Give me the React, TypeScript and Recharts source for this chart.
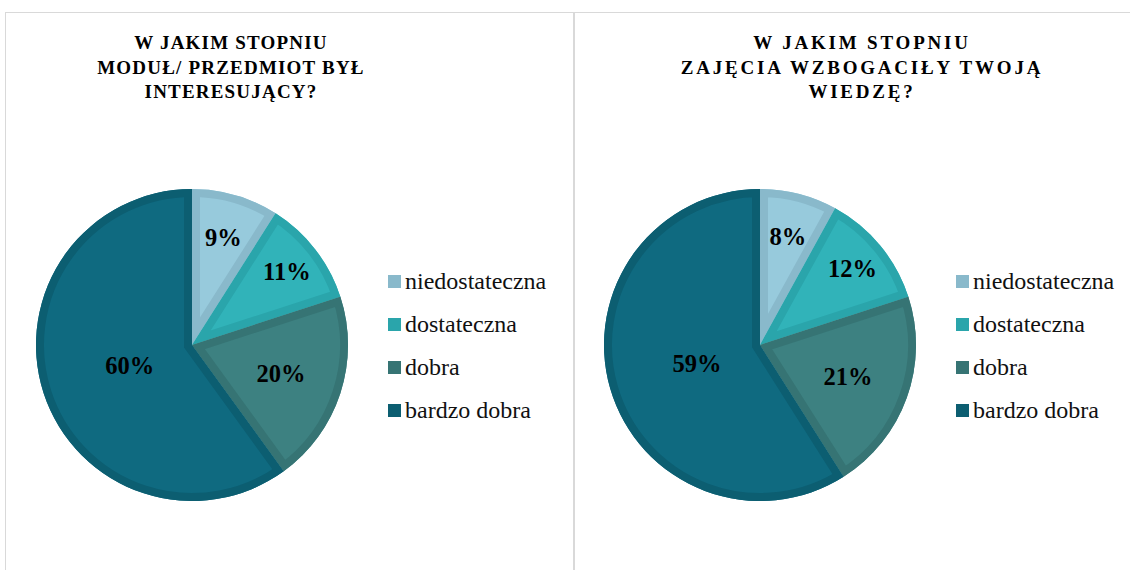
import { Legend, Pie, PieChart, Sector } from "recharts";

const KATEGORIE = ["niedostateczna", "dostateczna", "dobra", "bardzo dobra"];
const INTERESUJACY = [9, 11, 20, 60];
const WIEDZA = [8, 12, 21, 59];

const TYTUL_1 = ["W JAKIM STOPNIU", "MODUŁ/ PRZEDMIOT BYŁ", "INTERESUJĄCY?"];
const TYTUL_2 = ["W JAKIM STOPNIU", "ZAJĘCIA WZBOGACIŁY TWOJĄ", "WIEDZĘ?"];

const FILL = ["#97CADC", "#31B3B9", "#3D8181", "#0F6A80"];
const BORDER = ["#89B9CB", "#2AA5AB", "#367474", "#0C5E71"];
// how far out each % label sits (fraction of radius), per slice
const LABEL_DIST = [0.72, 0.77, 0.6, 0.42];

const SERIF = '"Liberation Serif", "Times New Roman", serif';
const RADIAN = Math.PI / 180;

function makeLabel(id: string) {
  return (p: any) => {
    const { cx, cy, outerRadius, startAngle, endAngle, midAngle, index, value } = p;
    const r = outerRadius * LABEL_DIST[index];
    const x = cx + r * Math.cos(-midAngle * RADIAN);
    const y = cy + r * Math.sin(-midAngle * RADIAN);
    const clipId = `${id}-clip-${index}`;
    return (
      <g>
        <defs>
          <clipPath id={clipId}>
            <Sector
              cx={cx}
              cy={cy}
              innerRadius={0}
              outerRadius={outerRadius}
              startAngle={startAngle}
              endAngle={endAngle}
            />
          </clipPath>
        </defs>
        {/* inner border like Excel's: double-width stroke clipped to the slice */}
        <Sector
          cx={cx}
          cy={cy}
          innerRadius={0}
          outerRadius={outerRadius}
          startAngle={startAngle}
          endAngle={endAngle}
          fill="none"
          stroke={BORDER[index]}
          strokeWidth={16}
          clipPath={`url(#${clipId})`}
        />
        <text
          x={x}
          y={y}
          textAnchor="middle"
          dominantBaseline="central"
          style={{ fontFamily: SERIF, fontWeight: "bold", fontSize: 24.5 }}
          fill="#000"
        >
          {value}%
        </text>
      </g>
    );
  };
}

function Legenda() {
  return (
    <div style={{ fontFamily: SERIF, fontSize: 24, color: "#111" }}>
      {KATEGORIE.map((k, i) => (
        <div key={k} style={{ height: 43, display: "flex", alignItems: "center" }}>
          <span
            style={{
              width: 13,
              height: 13,
              background: BORDER[i],
              display: "inline-block",
              marginRight: 4,
            }}
          />
          <span>{k}</span>
        </div>
      ))}
    </div>
  );
}

function Wykres({ id, values }: { id: string; values: number[] }) {
  const data = KATEGORIE.map((k, i) => ({ name: k, value: values[i], fill: FILL[i] }));
  return (
    <PieChart width={565} height={570} margin={{ top: 0, right: 0, bottom: 0, left: 0 }}>
      <Pie
        data={data}
        dataKey="value"
        nameKey="name"
        cx={192}
        cy={345}
        innerRadius={0}
        outerRadius={156}
        startAngle={90}
        endAngle={-270}
        stroke="none"
        label={makeLabel(id)}
        labelLine={false}
        isAnimationActive={false}
      />
      <Legend
        layout="vertical"
        align="right"
        verticalAlign="middle"
        content={() => <Legenda />}
        wrapperStyle={{ left: 388, top: 260, width: 200, right: "auto", bottom: "auto" }}
      />
    </PieChart>
  );
}

function Tytul({ lines, center, spacing }: { lines: string[]; center: number; spacing: number }) {
  return (
    <div
      style={{
        position: "absolute",
        left: center - 250,
        top: 31,
        width: 500,
        textAlign: "center",
        fontFamily: SERIF,
        fontWeight: "bold",
        fontSize: 19,
        lineHeight: "24.5px",
        letterSpacing: spacing,
        color: "#000",
      }}
    >
      {lines.map((l) => (
        <div key={l}>{l}</div>
      ))}
    </div>
  );
}

export default function App() {
  return (
    <div
      style={{
        position: "absolute",
        left: 0,
        top: 0,
        width: 1130,
        height: 570,
        overflow: "hidden",
        background: "#fff",
      }}
    >
      <div
        style={{
          position: "absolute",
          left: 5,
          top: 12,
          width: 570,
          height: 600,
          boxSizing: "border-box",
          border: "1.5px solid #D9D9D9",
        }}
      />
      <div
        style={{
          position: "absolute",
          left: 573,
          top: 12,
          width: 600,
          height: 600,
          boxSizing: "border-box",
          border: "1.5px solid #D9D9D9",
        }}
      />
      <Tytul lines={TYTUL_1} center={231} spacing={1.2} />
      <Tytul lines={TYTUL_2} center={862} spacing={2.8} />
      <div style={{ position: "absolute", left: 0, top: 0 }}>
        <Wykres id="p1" values={INTERESUJACY} />
      </div>
      <div style={{ position: "absolute", left: 568, top: 0 }}>
        <Wykres id="p2" values={WIEDZA} />
      </div>
    </div>
  );
}
